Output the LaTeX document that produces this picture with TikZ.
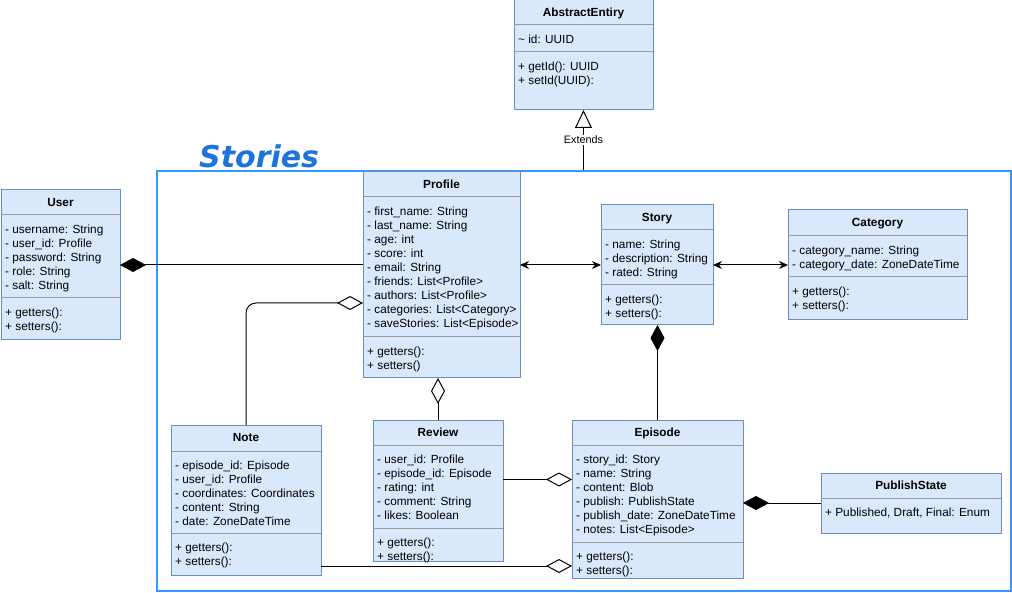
\documentclass[tikz,border=0pt]{standalone}
\usepackage{fontspec}
\setmainfont{Liberation Sans}
\newfontfamily\storiesfont{DejaVu Sans}
\usetikzlibrary{arrows.meta,calc}

\definecolor{classfill}{HTML}{DAE8FC}
\definecolor{classline}{HTML}{6C8EBF}
\definecolor{sepgray}{HTML}{9A9A9A}
\definecolor{frameblue}{HTML}{3399FF}
\definecolor{titleblue}{HTML}{1E73DC}

\tikzset{
  classbox/.style={draw=classline, fill=classfill, line width=1pt, outer sep=0pt, inner sep=0pt, anchor=north west},
  classtitle/.style={anchor=base, inner sep=0pt, font=\fontsize{11.8}{14}\selectfont\bfseries},
  member/.style={anchor=base west, inner sep=0pt, font=\fontsize{11.8}{14}\selectfont},
  divider/.style={draw=sepgray, line width=1pt},
  conn/.style={line width=1pt},
  compose/.style={conn, -{Diamond[length=26pt,width=14pt]}},
  aggregate/.style={conn, -{Diamond[open,fill=white,length=26pt,width=14pt]}},
  assoc/.style={conn, {Stealth[length=9pt,width=8pt]}-{Stealth[length=9pt,width=8pt]}},
  extends/.style={conn, -{Triangle[open,fill=white,length=18pt,width=17pt]}},
}

% class box: name, x, y, width, height, title
\newcommand{\umlclass}[6]{%
  \node[classbox, minimum width=#4, minimum height=#5] (#1) at (#2,#3) {};
  \node[classtitle] at ([yshift=-16.5]#1.north) {#6};
}
\newcommand{\classdivider}[2]{\draw[divider] ([yshift=-#2]#1.north west) -- ([yshift=-#2]#1.north east);}
\newcommand{\members}[3]{\foreach \m [count=\i from 0] in {#3}
  \node[member] at ([xshift=4, yshift={-(#2+1.5+14*\i)}]#1.north west) {\m};}

\begin{document}
\begin{tikzpicture}[x=1pt, y=-1pt]
  \useasboundingbox (0,0) rectangle (1012,593);

  % package frame
  \node[draw=frameblue, line width=2pt, minimum width=854, minimum height=420, anchor=north west, inner sep=0pt] (frame) at (156,170) {};
  \node[anchor=base west, inner sep=0pt, text=titleblue, font=\storiesfont\bfseries\itshape\fontsize{30}{30}\selectfont] (title) at (199,168) {Stories};

  % classes
  \umlclass{abstract}{514}{0}{139}{110}{AbstractEntiry}
  \classdivider{abstract}{25} \classdivider{abstract}{52}
  \members{abstract}{42}{\textasciitilde{} id: UUID}
  \members{abstract}{69}{+ getId(): UUID, + setId(UUID):}

  \umlclass{user}{1}{190}{119}{150}{User}
  \classdivider{user}{25} \classdivider{user}{108}
  \members{user}{42}{- username: String, - user\_id: Profile, - password: String, - role: String, - salt: String}
  \members{user}{125}{+ getters():, + setters():}

  \umlclass{profile}{363}{172}{157}{206}{Profile}
  \classdivider{profile}{25} \classdivider{profile}{165}
  \members{profile}{42}{- first\_name: String, - last\_name: String, - age: int, - score: int, - email: String,
    - friends: List<Profile>, - authors: List<Profile>, - categories: List<Category>, - saveStories: List<Episode>}
  \members{profile}{182}{+ getters():, + setters()}

  \umlclass{story}{601}{205}{112}{120}{Story}
  \classdivider{story}{25} \classdivider{story}{80}
  \members{story}{42}{- name: String, - description: String, - rated: String}
  \members{story}{97}{+ getters():, + setters():}

  \umlclass{category}{788}{210}{179}{110}{Category}
  \classdivider{category}{26} \classdivider{category}{67}
  \members{category}{43}{- category\_name: String, - category\_date: ZoneDateTime}
  \members{category}{84}{+ getters():, + setters():}

  \umlclass{note}{171}{425}{150}{150}{Note}
  \classdivider{note}{26} \classdivider{note}{108}
  \members{note}{43}{- episode\_id: Episode, - user\_id: Profile, - coordinates: Coordinates, - content: String, - date: ZoneDateTime}
  \members{note}{125}{+ getters():, + setters():}

  \umlclass{review}{373}{420}{130}{141}{Review}
  \classdivider{review}{25} \classdivider{review}{108}
  \members{review}{42}{- user\_id: Profile, - episode\_id: Episode, - rating: int, - comment: String, - likes: Boolean}
  \members{review}{125}{+ getters():, + setters():}

  \umlclass{episode}{572}{420}{171}{158}{Episode}
  \classdivider{episode}{25} \classdivider{episode}{122}
  \members{episode}{42}{- story\_id: Story, - name: String, - content: Blob, - publish: PublishState,
    - publish\_date: ZoneDateTime, - notes: List<Episode>}
  \members{episode}{139}{+ getters():, + setters():}

  \umlclass{publish}{821}{473}{180}{60}{PublishState}
  \classdivider{publish}{25}
  \members{publish}{42}{{+ Published, Draft, Final: Enum}}

  % relations
  \draw[extends] (abstract.south |- frame.north) -- (abstract.south)
    node[pos=0.5, fill=white, inner sep=1pt, font=\fontsize{10.8}{12}\selectfont] {Extends};
  \draw[compose] (user.east -| profile.west) -- (user.east);
  \draw[assoc] (profile.east |- story.west) -- (story.west);
  \draw[assoc] (story.east) -- (category.west);
  \draw[aggregate, rounded corners=10] (note.north) |- ([yshift=-28]profile.west);
  \draw[aggregate] (review.north) -- (review.north |- profile.south);
  \draw[compose] (episode.north) -- (episode.north |- story.south);
  \draw[aggregate] ([yshift=11]review.east) -- ([yshift=11]review.east -| episode.west);
  \draw[aggregate] ([yshift=-66]note.east) -- ([yshift=-66]note.east -| episode.west);
  \draw[compose] (publish.west) -- (publish.west -| episode.east);
\end{tikzpicture}
\end{document}
